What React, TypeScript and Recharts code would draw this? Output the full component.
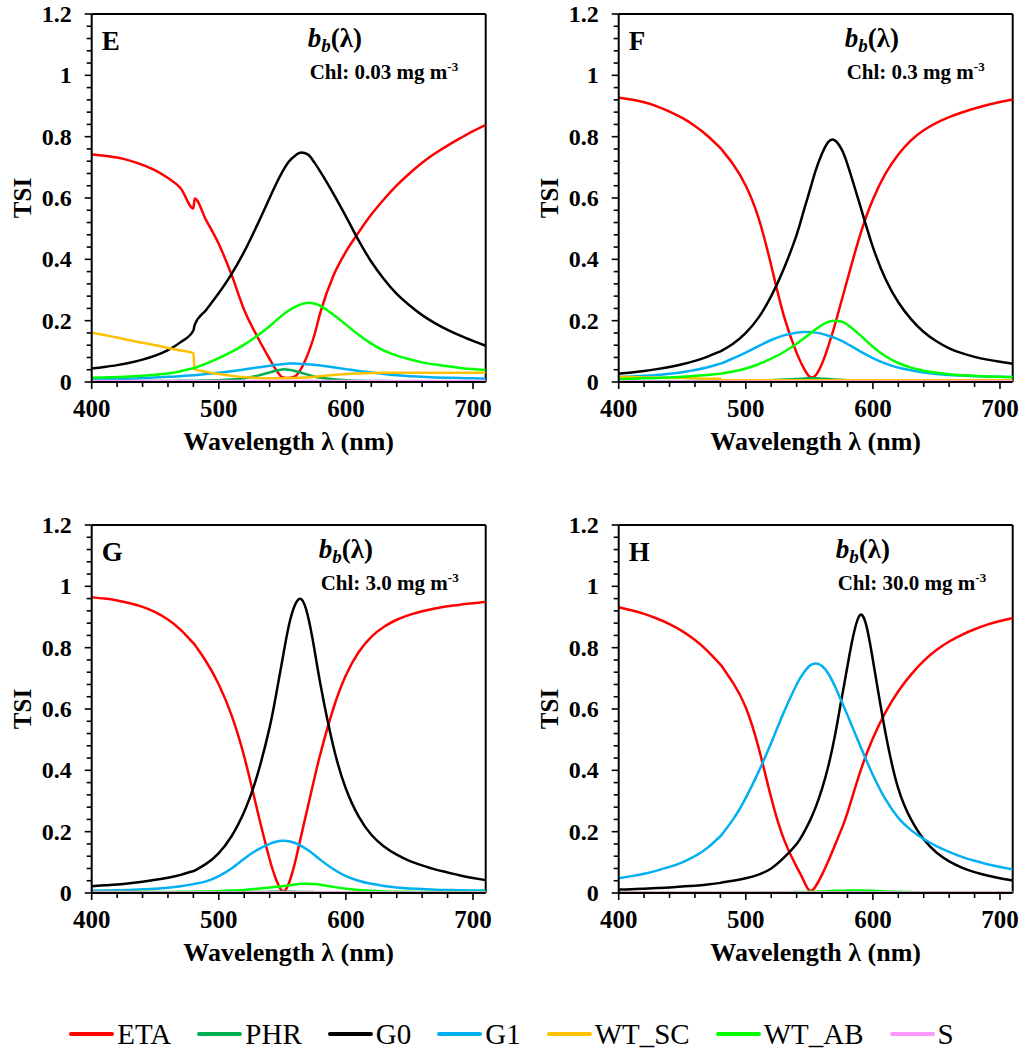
import React from 'react';
import { LineChart, Line, XAxis, YAxis, ReferenceLine } from 'recharts';

const FONT = '"Liberation Serif", "Times New Roman", Times, serif';

// Wavelength grid (nm)
const WL = [400,410,420,430,440,450,460,470,480,481,490,500,510,520,530,540,545,550,555,560,565,570,575,580,590,600,610,620,630,640,650,660,670,680,690,700,710];

const X_TICKS = [400,420,440,460,480,500,520,540,560,580,600,620,640,660,680,700];
const X_LABELS = [400,500,600,700];
const Y_TICKS = [0,0.04,0.08,0.12,0.16,0.2,0.24,0.28,0.32,0.36,0.4,0.44,0.48,0.52,0.56,0.6,0.64,0.68,0.72,0.76,0.8,0.84,0.88,0.92,0.96,1,1.04,1.08,1.12,1.16,1.2];
const Y_LABELS = [0,0.2,0.4,0.6,0.8,1,1.2];

// ---------- Panel E (Chl 0.03) ----------
const ETA_E = [0.742,0.738,0.732,0.722,0.708,0.69,0.665,0.632,0.566,0.598,0.528,0.45,0.35,0.235,0.15,0.075,0.04,0.016,0.013,0.018,0.045,0.09,0.15,0.228,0.345,0.425,0.488,0.546,0.596,0.641,0.68,0.715,0.745,0.771,0.795,0.818,0.838];
const PHR_E = [0.002,0.002,0.002,0.002,0.003,0.003,0.003,0.004,0.004,0.004,0.005,0.006,0.008,0.012,0.02,0.031,0.037,0.041,0.04,0.036,0.03,0.024,0.018,0.014,0.009,0.006,0.004,0.003,0.003,0.002,0.002,0.002,0.002,0.002,0.002,0.002,0.002];
const G0_E = [0.044,0.049,0.055,0.063,0.073,0.086,0.104,0.13,0.168,0.186,0.235,0.29,0.352,0.425,0.51,0.6,0.645,0.685,0.718,0.738,0.748,0.742,0.717,0.685,0.615,0.54,0.462,0.392,0.335,0.287,0.25,0.218,0.192,0.17,0.151,0.134,0.118];
const G1_E = [0.008,0.009,0.01,0.011,0.013,0.015,0.017,0.019,0.022,0.022,0.026,0.03,0.035,0.041,0.047,0.053,0.056,0.058,0.06,0.06,0.059,0.058,0.056,0.054,0.048,0.042,0.036,0.031,0.026,0.022,0.019,0.017,0.015,0.014,0.013,0.012,0.011];
const WTSC_E = [0.161,0.153,0.145,0.136,0.128,0.12,0.111,0.103,0.094,0.042,0.033,0.026,0.02,0.016,0.013,0.012,0.012,0.012,0.013,0.013,0.014,0.015,0.017,0.019,0.023,0.026,0.028,0.029,0.03,0.03,0.03,0.03,0.03,0.03,0.03,0.03,0.03];
const WTAB_E = [0.014,0.015,0.016,0.018,0.02,0.024,0.028,0.035,0.045,0.046,0.06,0.078,0.098,0.122,0.15,0.182,0.2,0.218,0.233,0.245,0.254,0.258,0.256,0.248,0.22,0.187,0.154,0.125,0.102,0.086,0.074,0.064,0.057,0.051,0.046,0.042,0.039];
const S_E = [0.003,0.003,0.003,0.003,0.003,0.003,0.003,0.003,0.003,0.003,0.003,0.003,0.003,0.003,0.003,0.003,0.003,0.003,0.003,0.003,0.003,0.003,0.003,0.003,0.003,0.003,0.003,0.003,0.003,0.003,0.003,0.003,0.003,0.003,0.003,0.003,0.003];

// ---------- Panel F (Chl 0.3) ----------
const ETA_F = [0.927,0.921,0.912,0.899,0.882,0.861,0.835,0.802,0.763,0.758,0.71,0.64,0.535,0.38,0.215,0.095,0.05,0.018,0.022,0.06,0.118,0.185,0.26,0.335,0.48,0.595,0.68,0.742,0.788,0.821,0.845,0.864,0.879,0.892,0.903,0.913,0.921];
const PHR_F = [0.001,0.001,0.001,0.002,0.002,0.002,0.003,0.003,0.003,0.003,0.004,0.004,0.005,0.006,0.008,0.01,0.011,0.012,0.012,0.011,0.01,0.008,0.007,0.006,0.004,0.003,0.002,0.002,0.002,0.001,0.001,0.001,0.001,0.001,0.001,0.001,0.001];
const G0_F = [0.027,0.031,0.036,0.042,0.049,0.058,0.069,0.083,0.1,0.102,0.125,0.16,0.21,0.28,0.37,0.48,0.55,0.62,0.69,0.745,0.783,0.788,0.762,0.71,0.575,0.44,0.335,0.26,0.205,0.163,0.133,0.11,0.094,0.082,0.073,0.066,0.06];
const G1_F = [0.016,0.018,0.02,0.023,0.027,0.032,0.039,0.048,0.06,0.061,0.077,0.096,0.117,0.137,0.152,0.161,0.163,0.163,0.161,0.157,0.151,0.144,0.135,0.124,0.1,0.078,0.06,0.047,0.038,0.031,0.026,0.023,0.021,0.019,0.018,0.017,0.016];
const WTSC_F = [0.017,0.016,0.015,0.014,0.013,0.013,0.012,0.011,0.011,0.006,0.006,0.006,0.006,0.006,0.006,0.006,0.006,0.006,0.006,0.006,0.006,0.006,0.006,0.006,0.006,0.006,0.006,0.006,0.006,0.006,0.006,0.006,0.006,0.006,0.006,0.006,0.006];
const WTAB_F = [0.01,0.011,0.012,0.013,0.015,0.017,0.02,0.023,0.027,0.028,0.034,0.044,0.058,0.076,0.098,0.125,0.14,0.156,0.172,0.186,0.196,0.2,0.197,0.187,0.153,0.115,0.084,0.062,0.047,0.037,0.03,0.025,0.022,0.02,0.018,0.017,0.016];
const S_F = [0.002,0.002,0.002,0.002,0.002,0.002,0.002,0.002,0.002,0.002,0.002,0.002,0.002,0.002,0.002,0.002,0.002,0.002,0.002,0.002,0.002,0.002,0.002,0.002,0.002,0.002,0.002,0.002,0.002,0.002,0.002,0.002,0.002,0.002,0.002,0.002,0.002];

// ---------- Panel G (Chl 3.0) ----------
const ETA_G = [0.964,0.96,0.954,0.945,0.933,0.916,0.892,0.858,0.815,0.81,0.755,0.68,0.58,0.445,0.275,0.11,0.045,0.006,0.03,0.1,0.19,0.28,0.37,0.455,0.6,0.71,0.785,0.835,0.868,0.891,0.907,0.919,0.928,0.935,0.94,0.945,0.949];
const PHR_G = [0.001,0.001,0.001,0.001,0.001,0.001,0.001,0.001,0.001,0.001,0.002,0.002,0.002,0.003,0.003,0.004,0.004,0.004,0.004,0.004,0.003,0.003,0.003,0.002,0.002,0.001,0.001,0.001,0.001,0.001,0.001,0.001,0.001,0.001,0.001,0.001,0.001];
const G0_G = [0.022,0.025,0.028,0.032,0.037,0.043,0.05,0.059,0.072,0.073,0.095,0.13,0.185,0.265,0.38,0.54,0.645,0.76,0.87,0.94,0.958,0.905,0.8,0.68,0.48,0.34,0.25,0.19,0.152,0.125,0.105,0.09,0.077,0.067,0.057,0.049,0.042];
const G1_G = [0.007,0.008,0.009,0.01,0.012,0.014,0.017,0.022,0.029,0.03,0.038,0.055,0.08,0.112,0.14,0.16,0.167,0.17,0.169,0.163,0.153,0.14,0.125,0.108,0.078,0.055,0.04,0.03,0.023,0.018,0.015,0.013,0.011,0.01,0.009,0.008,0.008];
const WTSC_G = [0.003,0.003,0.003,0.003,0.003,0.003,0.002,0.002,0.002,0.001,0.001,0.001,0.001,0.001,0.001,0.001,0.001,0.001,0.001,0.001,0.001,0.001,0.001,0.001,0.001,0.001,0.001,0.001,0.001,0.001,0.001,0.001,0.001,0.001,0.001,0.001,0.001];
const WTAB_G = [0.002,0.002,0.002,0.002,0.003,0.003,0.003,0.004,0.004,0.004,0.005,0.006,0.008,0.01,0.014,0.018,0.02,0.022,0.025,0.028,0.03,0.03,0.029,0.027,0.02,0.014,0.01,0.007,0.005,0.004,0.004,0.003,0.003,0.003,0.003,0.003,0.003];
const S_G = [0.002,0.002,0.002,0.002,0.002,0.002,0.002,0.002,0.002,0.002,0.002,0.002,0.002,0.002,0.002,0.002,0.002,0.002,0.002,0.002,0.002,0.002,0.002,0.002,0.002,0.002,0.002,0.002,0.002,0.002,0.002,0.002,0.002,0.002,0.002,0.002,0.002];

// ---------- Panel H (Chl 30.0) ----------
const ETA_H = [0.932,0.922,0.91,0.895,0.877,0.854,0.825,0.789,0.745,0.74,0.685,0.605,0.475,0.31,0.175,0.085,0.045,0.008,0.022,0.06,0.105,0.155,0.205,0.262,0.395,0.505,0.59,0.658,0.712,0.757,0.792,0.82,0.842,0.86,0.875,0.887,0.897];
const PHR_H = [0.001,0.001,0.001,0.001,0.001,0.001,0.001,0.001,0.001,0.001,0.001,0.001,0.001,0.001,0.001,0.001,0.001,0.001,0.001,0.001,0.001,0.001,0.001,0.001,0.001,0.001,0.001,0.001,0.001,0.001,0.001,0.001,0.001,0.001,0.001,0.001,0.001];
const G0_H = [0.011,0.012,0.014,0.016,0.018,0.021,0.024,0.028,0.033,0.034,0.04,0.048,0.06,0.08,0.115,0.16,0.192,0.232,0.28,0.34,0.415,0.51,0.625,0.74,0.907,0.76,0.52,0.34,0.24,0.175,0.132,0.103,0.083,0.068,0.057,0.048,0.041];
const G1_H = [0.048,0.055,0.063,0.073,0.085,0.1,0.12,0.148,0.185,0.19,0.24,0.31,0.395,0.49,0.59,0.68,0.715,0.74,0.748,0.74,0.715,0.675,0.628,0.58,0.48,0.385,0.305,0.245,0.205,0.176,0.153,0.134,0.118,0.105,0.094,0.085,0.077];
const WTSC_H = [0.001,0.001,0.001,0.001,0.001,0.001,0.001,0.001,0.001,0.001,0.001,0.001,0.001,0.001,0.001,0.001,0.001,0.001,0.001,0.001,0.001,0.001,0.001,0.001,0.001,0.001,0.001,0.001,0.001,0.001,0.001,0.001,0.001,0.001,0.001,0.001,0.001];
const WTAB_H = [0.001,0.001,0.001,0.001,0.001,0.001,0.001,0.001,0.001,0.001,0.001,0.001,0.002,0.002,0.002,0.003,0.003,0.004,0.004,0.005,0.006,0.007,0.007,0.008,0.008,0.007,0.005,0.004,0.003,0.002,0.002,0.002,0.001,0.001,0.001,0.001,0.001];
const S_H = [0.002,0.002,0.002,0.002,0.002,0.002,0.002,0.002,0.002,0.002,0.002,0.002,0.002,0.002,0.002,0.002,0.002,0.002,0.002,0.002,0.002,0.002,0.002,0.002,0.002,0.002,0.002,0.002,0.002,0.002,0.002,0.002,0.002,0.002,0.002,0.002,0.002];

const SERIES = [
  { key: 'ETA', color: '#FF0000' },
  { key: 'PHR', color: '#00B050' },
  { key: 'G0', color: '#000000' },
  { key: 'G1', color: '#00B0F0' },
  { key: 'WT_SC', color: '#FFC000' },
  { key: 'WT_AB', color: '#00FF00' },
  { key: 'S', color: '#FF99FF' },
];

const buildRows = (v: Record<string, number[]>) =>
  WL.map((wl, i) => {
    const row: Record<string, number> = { wl };
    SERIES.forEach((s) => { row[s.key] = v[s.key][i]; });
    return row;
  });

// series with a step near 480 nm are drawn with monotone interpolation
const PANELS = [
  { id: 'E', chl: '0.03', left: 0, top: 0, dx: 216, stepKeys: ['ETA', 'G0', 'WT_SC'],
    data: buildRows({ ETA: ETA_E, PHR: PHR_E, G0: G0_E, G1: G1_E, WT_SC: WTSC_E, WT_AB: WTAB_E, S: S_E }) },
  { id: 'F', chl: '0.3', left: 527.3, top: 0, dx: 226, stepKeys: ['WT_SC'],
    data: buildRows({ ETA: ETA_F, PHR: PHR_F, G0: G0_F, G1: G1_F, WT_SC: WTSC_F, WT_AB: WTAB_F, S: S_F }) },
  { id: 'G', chl: '3.0', left: 0, top: 511, dx: 227, stepKeys: ['WT_SC'],
    data: buildRows({ ETA: ETA_G, PHR: PHR_G, G0: G0_G, G1: G1_G, WT_SC: WTSC_G, WT_AB: WTAB_G, S: S_G }) },
  { id: 'H', chl: '30.0', left: 527.3, top: 511, dx: 217, stepKeys: [],
    data: buildRows({ ETA: ETA_H, PHR: PHR_H, G0: G0_H, G1: G1_H, WT_SC: WTSC_H, WT_AB: WTAB_H, S: S_H }) },
];

const CW = 495;
const CH = 470;
const MARGIN = { top: 14, right: 9.3, bottom: 28, left: 31.7 };
const YW = 60;
const XH = 60;
const PL = MARGIN.left + YW;
const PT = MARGIN.top;
const PB = CH - MARGIN.bottom - XH;
const PWID = CW - PL - MARGIN.right;

const XTick = (props: any) => {
  const { x, y, payload } = props;
  const v = payload.value;
  const major = X_LABELS.includes(v);
  return (
    <g>
      <line x1={x} x2={x} y1={y} y2={y + (major ? 7 : 5)} stroke="#000" strokeWidth={1.6} />
      {major && (
        <text x={x} y={y + 35} textAnchor="middle" fontFamily={FONT} fontWeight="bold" fontSize={25} fill="#000">
          {v}
        </text>
      )}
    </g>
  );
};

const YTick = (props: any) => {
  const { x, y, payload } = props;
  const v = payload.value;
  const major = Y_LABELS.some((m) => Math.abs(m - v) < 1e-6);
  return (
    <g>
      <line x1={x} x2={x - (major ? 7 : 5)} y1={y} y2={y} stroke="#000" strokeWidth={1.6} />
      {major && (
        <text x={x - 20} y={y} dy="0.34em" textAnchor="end" fontFamily={FONT} fontWeight="bold" fontSize={24} fill="#000">
          {String(v)}
        </text>
      )}
    </g>
  );
};

const Panel = ({ p }: { p: any }) => (
  <div style={{ position: 'absolute', left: p.left, top: p.top, width: CW, height: CH }}>
    <LineChart width={CW} height={CH} data={p.data} margin={MARGIN}>
      <XAxis
        type="number"
        dataKey="wl"
        domain={[400, 710]}
        ticks={X_TICKS}
        interval={0}
        tick={XTick}
        tickLine={false}
        tickSize={0}
        tickMargin={0}
        height={XH}
        axisLine={{ stroke: '#000', strokeWidth: 2 }}
        allowDataOverflow
      />
      <YAxis
        type="number"
        domain={[0, 1.2]}
        ticks={Y_TICKS}
        interval={0}
        tick={YTick}
        tickLine={false}
        tickSize={0}
        tickMargin={0}
        width={YW}
        axisLine={{ stroke: '#000', strokeWidth: 2 }}
        allowDataOverflow
      />
      <ReferenceLine x={710} stroke="#000" strokeWidth={2} />
      <ReferenceLine y={1.2} stroke="#000" strokeWidth={2} />
      {SERIES.map((s) => (
        <Line
          key={s.key}
          type={p.stepKeys.includes(s.key) ? 'monotone' : 'natural'}
          dataKey={s.key}
          stroke={s.color}
          strokeWidth={2.5}
          dot={false}
          activeDot={false}
          isAnimationActive={false}
        />
      ))}
    </LineChart>
    <svg
      width={CW}
      height={CH}
      style={{ position: 'absolute', left: 0, top: 0, pointerEvents: 'none' }}
      fontFamily={FONT}
      fontWeight="bold"
      fill="#000"
    >
      <text x={PL + 10} y={PT + 36} fontSize={27}>{p.id}</text>
      <text x={PL + p.dx} y={PT + 33} fontSize={27}>
        <tspan fontStyle="italic">b</tspan>
        <tspan fontStyle="italic" fontSize={19} dy={5}>b</tspan>
        <tspan dy={-5}>(λ)</tspan>
      </text>
      <text x={PL + p.dx + 2} y={PT + 65} fontSize={21}>
        {`Chl: ${p.chl} mg m`}
        <tspan fontSize={13} dy={-8}>-3</tspan>
      </text>
      <text x={31} y={(PT + PB) / 2} fontSize={25} textAnchor="middle" transform={`rotate(-90, 31, ${(PT + PB) / 2})`}>
        TSI
      </text>
      <text x={PL + PWID / 2} y={PB + 68} fontSize={26} textAnchor="middle">
        Wavelength λ (nm)
      </text>
    </svg>
  </div>
);

const Legend = () => (
  <div
    style={{
      position: 'absolute', left: 0, top: 1014, width: 1023, height: 40,
      display: 'flex', justifyContent: 'center', alignItems: 'center', gap: 26,
      fontFamily: FONT, fontSize: 29, color: '#000',
    }}
  >
    {SERIES.map((s) => (
      <div key={s.key} style={{ display: 'flex', alignItems: 'center', height: 40 }}>
        <svg width={45} height={10} style={{ marginRight: 3, display: 'block' }}>
          <line x1={2} x2={43} y1={5} y2={5} stroke={s.color} strokeWidth={4} strokeLinecap="round" />
        </svg>
        <span style={{ lineHeight: '40px', whiteSpace: 'nowrap' }}>{s.key}</span>
      </div>
    ))}
  </div>
);

export default function App() {
  return (
    <div style={{ position: 'absolute', left: 0, top: 0, width: 1023, height: 1053, background: '#fff', overflow: 'hidden' }}>
      {PANELS.map((p) => <Panel key={p.id} p={p} />)}
      <Legend />
    </div>
  );
}
